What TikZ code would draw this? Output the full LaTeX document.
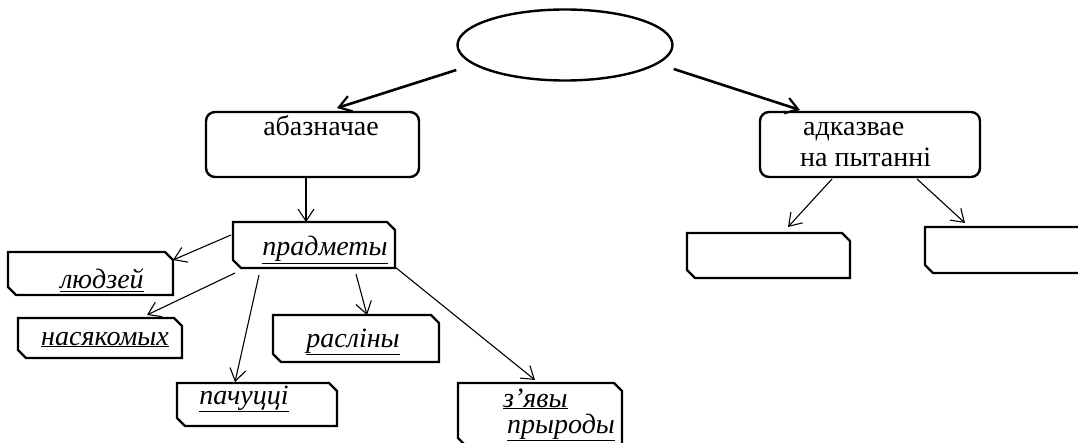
\documentclass[tikz,border=0pt]{standalone}
\usepackage{fontspec}
\setmainfont{Liberation Serif}
\usetikzlibrary{arrows.meta,calc,shapes.geometric}
\newcommand{\snipbox}[2][8]{\draw[boxline] (#2.north west) -- ($(#2.north east)+(-#1,0)$) -- ($(#2.north east)+(0,#1)$) -- (#2.south east) -- ($(#2.south west)+(#1,0)$) -- ($(#2.south west)+(0,-#1)$) -- cycle;}
\tikzset{
  boxline/.style={line width=2.4pt, line join=miter},
  boxn/.style={rectangle, draw=none, inner sep=0pt, outer sep=0pt},
  rbox/.style={rectangle, draw, line width=2.4pt, rounded corners=9pt, inner sep=0pt, outer sep=0pt},
  lab/.style={inner sep=0pt, font=\fontsize{28}{32}\selectfont\itshape},
  rlab/.style={inner sep=0pt, font=\fontsize{28}{32}\selectfont},
  thinarrow/.style={line width=1.1pt, -{Straight Barb[length=12pt,width=16pt,line width=1.1pt]}},
  thickarrow/.style={line width=2.6pt, -{Straight Barb[length=12pt,width=16pt,line width=2.2pt]}},
}
\begin{document}
\begin{tikzpicture}[x=1pt,y=-1pt]
\useasboundingbox (0,0) rectangle (1078,443);
% ellipse
\node[ellipse, draw, line width=2.4pt, minimum width=215pt, minimum height=71pt, inner sep=0pt] (ell) at (565,45) {};
% rounded boxes
\node[rbox, minimum width=213pt, minimum height=65pt] (abazn) at (312.5,144.5) {};
\node[rbox, minimum width=220pt, minimum height=65pt] (adkaz) at (870,144.5) {};
% snipped boxes
\node[boxn, minimum width=162pt, minimum height=46pt] (pradm) at (314,245) {};
\node[boxn, minimum width=165pt, minimum height=43pt] (ludz) at (90.5,273.5) {};
\node[boxn, minimum width=164pt, minimum height=40pt] (nasyak) at (100,338) {};
\node[boxn, minimum width=160pt, minimum height=43pt] (pachu) at (257,404.5) {};
\node[boxn, minimum width=166pt, minimum height=47pt] (rasl) at (356,338.5) {};
\node[boxn, minimum width=164pt, minimum height=63pt] (zyavy) at (540,414.5) {};
\node[boxn, minimum width=163pt, minimum height=45pt] (empty1) at (768.5,255.5) {};
\node[boxn, minimum width=165pt, minimum height=46pt] (empty2) at (1007.5,250) {};
\foreach \b in {pradm,ludz,nasyak,pachu,rasl,zyavy,empty1,empty2}{\snipbox{\b}}
% labels
\node[rlab, anchor=base] (tabazn) at (321,136) {абазначае};
\node[rlab, anchor=base west] (tadkaz1) at (803,136) {адказвае};
\node[rlab, anchor=base west] (tadkaz2) at (800,167) {на пытанні};
\node[lab, anchor=base] (tpradm) at (325,256) {\underline{прадметы}};
\node[lab, anchor=base] (tludz) at (102,289) {\underline{людзей}};
\node[lab, anchor=base] (tnasyak) at (105,345) {\underline{насякомых}};
\node[lab, anchor=base] (tpachu) at (244,404) {\underline{пачуцці}};
\node[lab, anchor=base] (trasl) at (353,347) {\underline{расліны}};
\node[lab, anchor=base west] (tzyavy1) at (503,407) {\underline{з’явы}};
\node[lab, anchor=base west] (tzyavy2) at (507,433) {\underline{прыроды}};
% connectors
\draw[thickarrow] ([shift={(0,25)}]ell.west) -- ([shift={(24.5,-4)}]abazn.north);
\draw[thickarrow] ([shift={(0,24)}]ell.east) -- ([shift={(-70,-2)}]adkaz.north);
\draw[thinarrow] ([shift={(-6.5,0)}]abazn.south) -- ([shift={(-8,0)}]pradm.north);
\draw[thinarrow] ([shift={(-2,-10)}]pradm.west) -- ([shift={(0,-13.5)}]ludz.east);
\draw[thinarrow] ([shift={(2,5)}]pradm.south west) -- ([shift={(47,-3)}]nasyak.north);
\draw[thinarrow] ([shift={(26,7)}]pradm.south west) -- ([shift={(-22,-1)}]pachu.north);
\draw[thinarrow] ([shift={(42,6)}]pradm.south) -- ([shift={(11,0)}]rasl.north);
\draw[thinarrow] ([shift={(0,-1)}]pradm.south east) -- ([shift={(-5,-3)}]zyavy.north);
\draw[thinarrow] ([shift={(-38,2)}]adkaz.south) -- ([shift={(19.5,-6)}]empty1.north);
\draw[thinarrow] ([shift={(47,2)}]adkaz.south) -- ([shift={(-42.5,-4)}]empty2.north);
\end{tikzpicture}
\end{document}
